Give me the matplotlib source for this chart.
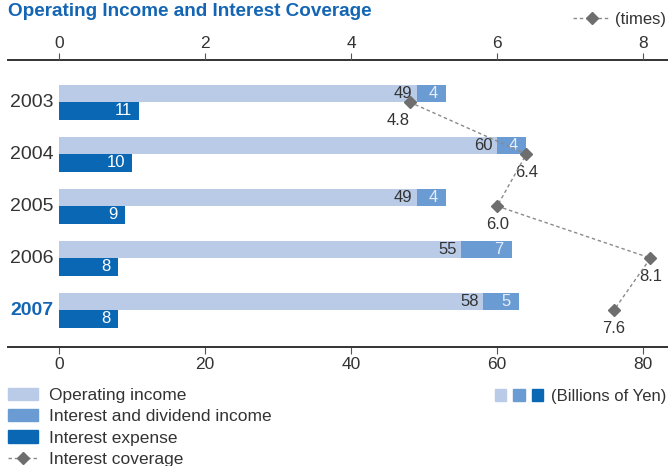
import matplotlib
matplotlib.use('Agg')
import matplotlib.pyplot as plt
import numpy as np
from matplotlib.patches import Patch
from matplotlib.lines import Line2D
from matplotlib.legend_handler import HandlerTuple

plt.rcParams['font.family'] = ['Liberation Sans', 'DejaVu Sans']

# Daten
years = ['2003', '2004', '2005', '2006', '2007']
operating_income = [49, 60, 49, 55, 58]
interest_dividend = [4, 4, 4, 7, 5]
interest_expense = [11, 10, 9, 8, 8]
coverage = [4.8, 6.4, 6.0, 8.1, 7.6]

# Farben
c_light = '#bacbe7'
c_mid = '#6a9bd3'
c_dark = '#0a67b4'
c_title = '#1466b4'
c_text = '#333333'
c_marker = '#6e6e6e'
c_line = '#8a8a8a'

fig = plt.figure(figsize=(6.68, 4.66), dpi=100)
ax = fig.add_axes([8 / 668, 1 - 347 / 466, 660 / 668, 287 / 466])

y = np.arange(len(years))
h = 0.336

# Balken
ax.barh(y - h / 2, operating_income, height=h, color=c_light)
ax.barh(y - h / 2, interest_dividend, left=operating_income, height=h, color=c_mid)
ax.barh(y + h / 2, interest_expense, height=h, color=c_dark)

# Werte in den Balken
for i in range(len(years)):
    ax.annotate(str(operating_income[i]), (operating_income[i], y[i] - h / 2),
                xytext=(-3, 0), textcoords='offset points', ha='right', va='center',
                fontsize=12, color=c_text)
    end = operating_income[i] + interest_dividend[i]
    ax.annotate(str(interest_dividend[i]), (end, y[i] - h / 2),
                xytext=(-6, 0), textcoords='offset points', ha='right', va='center',
                fontsize=12, color='#e6eef9')
    ax.annotate(str(interest_expense[i]), (interest_expense[i], y[i] + h / 2),
                xytext=(-5, 0), textcoords='offset points', ha='right', va='center',
                fontsize=12, color='white')

# Jahre
for i, yr in enumerate(years):
    last = i == len(years) - 1
    ax.text(-0.7, y[i], yr, ha='right', va='center', fontsize=14,
            color=c_title if last else c_text,
            fontweight='bold' if last else 'normal')

ax.set_xlim(-7.0, 83.4)
ax.set_ylim(4.71, -0.81)
ax.set_xticks([0, 20, 40, 60, 80])
ax.set_yticks([])
for s in ['left', 'right']:
    ax.spines[s].set_visible(False)
for s in ['top', 'bottom']:
    ax.spines[s].set_linewidth(1.4)
    ax.spines[s].set_color('#333333')
ax.tick_params(axis='x', direction='out', length=5, width=0.8, color='#555555',
               labelsize=12.5, labelcolor=c_text, pad=2.5)

# Zinsdeckung (oben)
ax2 = ax.twiny()
ax2.set_xlim(-0.70, 8.34)
ax2.set_xticks([0, 2, 4, 6, 8])
for s in ['left', 'right', 'bottom', 'top']:
    ax2.spines[s].set_visible(False)
ax2.tick_params(axis='x', direction='out', length=5, width=0.8, color='#555555',
                labelsize=12.5, labelcolor=c_text, pad=1.5)
ax2.plot(coverage, y, color=c_line, linestyle=(0, (2.5, 2)), linewidth=1,
         marker='D', markersize=6.5, markerfacecolor=c_marker,
         markeredgecolor=c_marker, zorder=5)
for i, v in enumerate(coverage):
    ax2.annotate(f'{v:.1f}', (v, y[i]), xytext=(0, -8), textcoords='offset points',
                 ha='right' if i == 0 else 'center', va='top', fontsize=12,
                 color=c_text)

# Titel
fig.text(8 / 668, 1 - 3 / 466, 'Operating Income and Interest Coverage',
         ha='left', va='top', fontsize=13.6, fontweight='bold', color=c_title,
         family=['Liberation Sans Narrow', 'Liberation Sans'])

# Legenden
cov_handle = Line2D([], [], color=c_line, linestyle=(0, (2.5, 2)), linewidth=1,
                    marker='D', markersize=6, markerfacecolor=c_marker,
                    markeredgecolor=c_marker)
fig.legend([cov_handle], ['(times)'], loc='upper right',
           bbox_to_anchor=(666 / 668, 1 - 12 / 466), frameon=False, fontsize=12,
           handlelength=2.2, handletextpad=0.3, borderpad=0, borderaxespad=0,
           labelcolor=c_text)

handles = [Patch(color=c_light), Patch(color=c_mid), Patch(color=c_dark), cov_handle]
labels = ['Operating income', 'Interest and dividend income', 'Interest expense',
          'Interest coverage']
fig.legend(handles, labels, loc='upper left', bbox_to_anchor=(8 / 668, 1 - 388 / 466),
           frameon=False, fontsize=12.5, handlelength=1.75, handleheight=0.7,
           handletextpad=0.6, labelspacing=0.35, borderpad=0, borderaxespad=0,
           labelcolor=c_text)

fig.legend([(Patch(color=c_light), Patch(color=c_mid), Patch(color=c_dark))],
           ['(Billions of Yen)'], loc='upper right',
           bbox_to_anchor=(666 / 668, 1 - 389 / 466), frameon=False, fontsize=12,
           handler_map={tuple: HandlerTuple(ndivide=None, pad=0.42)},
           handlelength=2.9, handleheight=0.7, handletextpad=0.45,
           borderpad=0, borderaxespad=0, labelcolor=c_text)

fig.savefig('out.png', dpi=100)
